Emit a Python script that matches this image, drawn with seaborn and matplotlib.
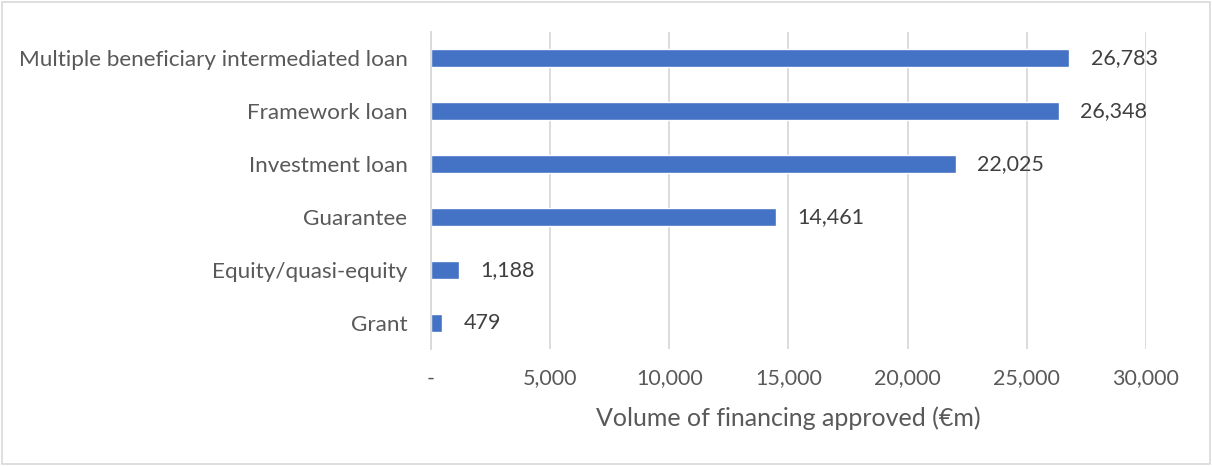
import matplotlib
matplotlib.use("Agg")
import matplotlib.pyplot as plt
import seaborn as sns
import pandas as pd
from matplotlib.ticker import FuncFormatter

# Data
categories = [
    "Multiple beneficiary intermediated loan",
    "Framework loan",
    "Investment loan",
    "Guarantee",
    "Equity/quasi-equity",
    "Grant",
]
volumes = [26783, 26348, 22025, 14461, 1188, 479]
x_ticks = [0, 5000, 10000, 15000, 20000, 25000, 30000]

# Constants
BAR_COLOR = "#4472C4"
GRID_COLOR = "#D9D9D9"
TEXT_COLOR = "#595959"
LABEL_COLOR = "#404040"

sns.set_style("white")
plt.rcParams["font.family"] = ["Lato", "DejaVu Sans"]

df = pd.DataFrame({"category": categories, "volume": volumes})

fig = plt.figure(figsize=(12.12, 4.66), dpi=100)
ax = fig.add_axes([0.3556, 0.251, 0.5899, 0.6804])

sns.barplot(data=df, x="volume", y="category", orient="h",
            color=BAR_COLOR, width=0.34, saturation=1, ax=ax)

ax.set_xlim(0, 30000)
ax.set_xticks(x_ticks)
ax.xaxis.set_major_formatter(
    FuncFormatter(lambda v, p: "-" if v == 0 else "{:,.0f}".format(v)))
ax.grid(axis="x", color=GRID_COLOR, linewidth=1.3)
ax.set_axisbelow(True)
for side in ["top", "right", "bottom"]:
    ax.spines[side].set_visible(False)
ax.spines["left"].set_color(GRID_COLOR)
ax.spines["left"].set_linewidth(1.3)

ax.tick_params(axis="both", length=0, colors=TEXT_COLOR)
ax.tick_params(axis="x", pad=14, labelsize=15.5)
ax.tick_params(axis="y", pad=17, labelsize=16.2)
ax.set_ylabel("")
ax.set_xlabel("Volume of financing approved (€m)", fontsize=18,
              color=TEXT_COLOR, labelpad=13)

# Value labels
for i, v in enumerate(volumes):
    ax.text(v + 900, i, "{:,}".format(v), va="center", ha="left",
            fontsize=15.5, color=LABEL_COLOR)

# Outer border like the Excel chart area
fig.patches.append(plt.Rectangle((0.002, 0.004), 0.996, 0.992,
                                 transform=fig.transFigure, fill=False,
                                 edgecolor="#D9D9D9", linewidth=1.2))

plt.savefig("out.png", dpi=100)
plt.close()
